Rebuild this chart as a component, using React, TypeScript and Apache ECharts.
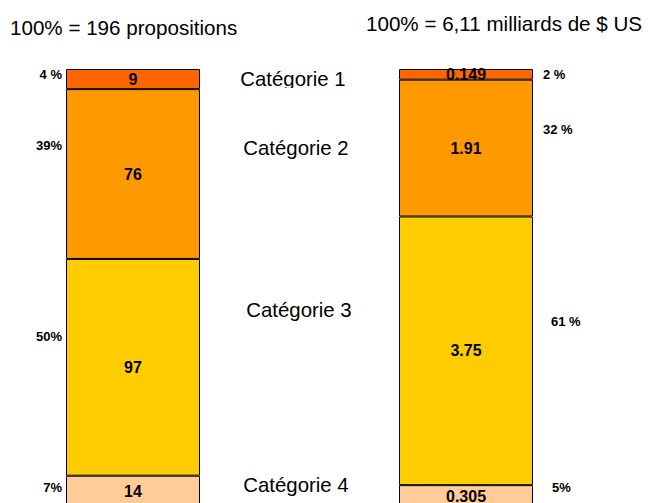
import React, { useEffect, useRef } from "react";
import * as echarts from "echarts";

// Segments listed top to bottom
const categories = ["Catégorie 1", "Catégorie 2", "Catégorie 3", "Catégorie 4"];
const propositions = [9, 76, 97, 14];
const amounts = [0.149, 1.91, 3.75, 0.305];
const propositionShares = ["4 %", "39%", "50%", "7%"];
const amountShares = ["2 %", "32 %", "61 %", "5%"];
const titles = ["100% = 196 propositions", "100% = 6,11 milliards de $ US"];
const colors = ["#FF6600", "#FF9900", "#FFCC00", "#FFCC99"];

const FONT = "'Liberation Sans', Arial, sans-serif";

export default function App() {
  const ref = useRef<HTMLDivElement>(null);

  useEffect(() => {
    document.body.style.margin = "0";
    document.body.style.overflow = "hidden";
    const chart = echarts.init(ref.current!, null, { renderer: "svg" });

    const sum = (a: number[]) => a.reduce((s, v) => s + v, 0);
    const series: any[] = [];
    // ECharts stacks in series order, so start from the bottom segment
    for (let i = categories.length - 1; i >= 0; i--) {
      [propositions, amounts].forEach((vals, g) => {
        series.push({
          type: "bar",
          name: categories[i],
          stack: "s" + g,
          xAxisIndex: g,
          yAxisIndex: g,
          barWidth: "100%",
          data: [vals[i]],
          itemStyle: { color: colors[i], borderColor: "#000", borderWidth: 1 },
          label: {
            show: true,
            position: "inside",
            color: "#000",
            fontFamily: FONT,
            fontWeight: "bold",
            fontSize: 16,
            formatter: () => String(vals[i]),
          },
        });
      });
    }

    const text = (x: number, y: number, t: string, o: any = {}) => ({
      type: "text",
      x,
      y,
      style: {
        text: t,
        fill: "#000",
        font: o.font || `12px ${FONT}`,
        textAlign: o.align || "left",
        textVerticalAlign: "middle",
      },
    });

    const leftY = [74, 145, 336, 487];
    const rightY = [74, 129, 321, 487];
    const rightX = [543, 543, 551, 552];
    const catY = [79, 148, 310, 485];
    const catX = [293, 296, 299, 296];

    const graphic: any[] = [
      text(10, 27, titles[0], { font: `20.6px ${FONT}` }),
      text(366, 23, titles[1], { font: `20.6px ${FONT}` }),
    ];
    categories.forEach((c, i) => {
      graphic.push(text(catX[i], catY[i], c, { font: `20.4px ${FONT}`, align: "center" }));
      graphic.push(text(62, leftY[i], propositionShares[i], { font: `bold 13px ${FONT}`, align: "right" }));
      graphic.push(text(rightX[i], rightY[i], amountShares[i], { font: `bold 13px ${FONT}` }));
    });
    // the first category caption is cut just below its baseline
    graphic.push({
      type: "rect",
      shape: { x: 230, y: 88, width: 130, height: 8 },
      style: { fill: "#fff" },
      z: 100,
    });

    chart.setOption({
      animation: false,
      grid: [
        { left: 66, top: 69, width: 134, height: 438 },
        { left: 399, top: 69, width: 134, height: 438 },
      ],
      xAxis: [0, 1].map((g) => ({
        type: "category",
        gridIndex: g,
        data: [titles[g]],
        show: false,
      })),
      yAxis: [propositions, amounts].map((vals, g) => ({
        type: "value",
        gridIndex: g,
        min: 0,
        max: sum(vals),
        show: false,
      })),
      series,
      graphic,
    });

    return () => chart.dispose();
  }, []);

  // the bars run past the bottom edge of the window
  return (
    <div
      ref={ref}
      style={{ position: "absolute", left: 0, top: 0, width: 648, height: 530, background: "#fff" }}
    />
  );
}
